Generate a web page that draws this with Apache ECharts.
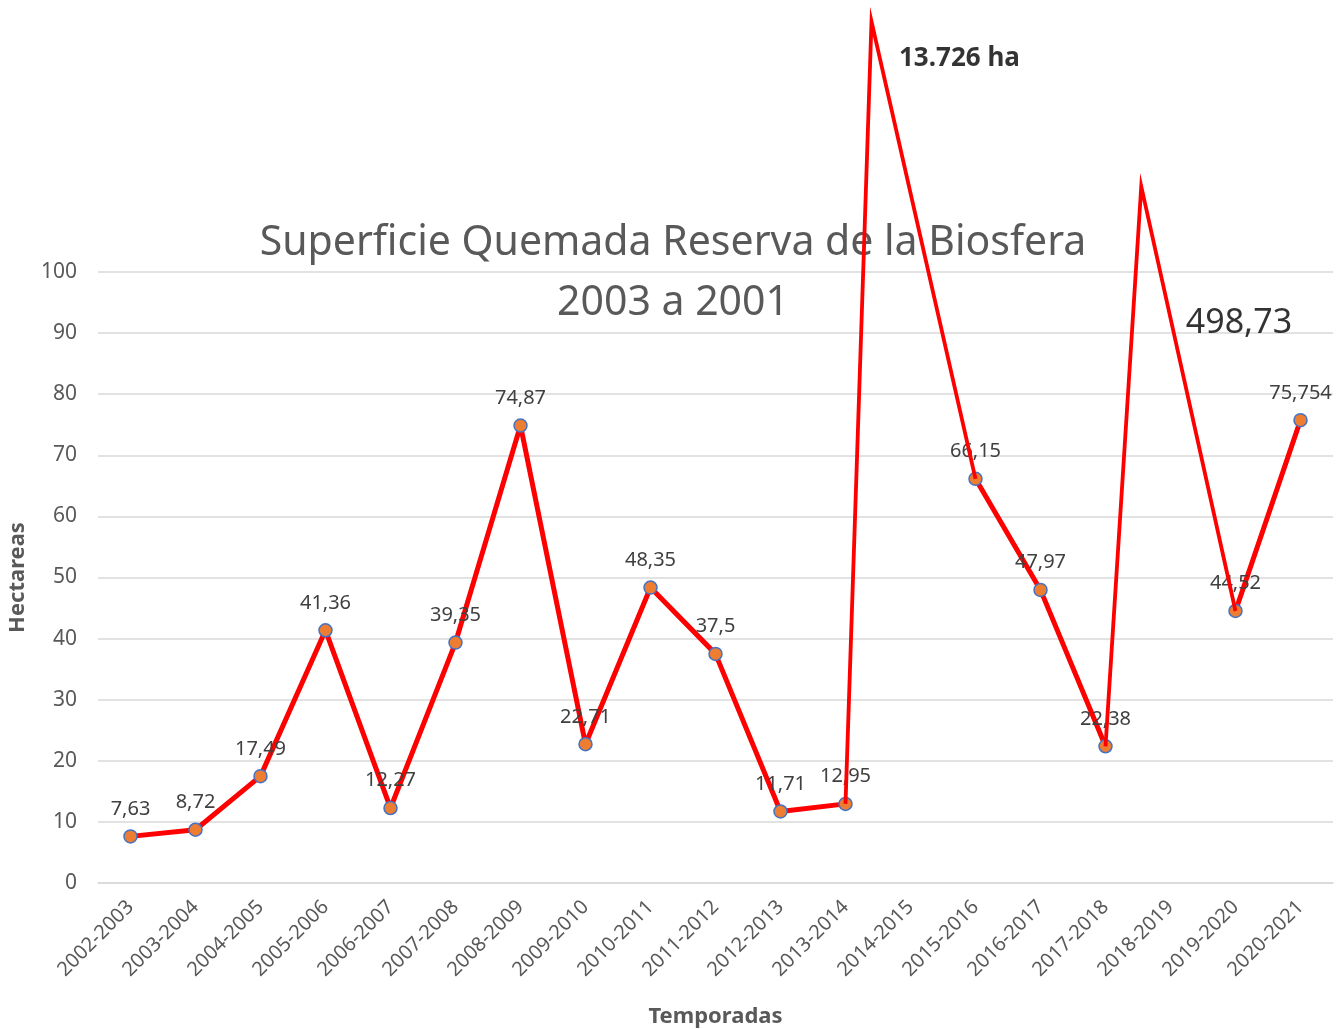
<!DOCTYPE html>
<html>
<head>
<meta charset="utf-8">
<script src="https://cdn.jsdelivr.net/npm/echarts@6/dist/echarts.min.js"></script>
<style>
  html, body { margin: 0; padding: 0; background: #fff; }
  #main { width: 1336px; height: 1029px; }
</style>
</head>
<body>
<div id="main"></div>
<script>
const temporadas = ['2002-2003', '2003-2004', '2004-2005', '2005-2006', '2006-2007', '2007-2008',
  '2008-2009', '2009-2010', '2010-2011', '2011-2012', '2012-2013', '2013-2014', '2014-2015',
  '2015-2016', '2016-2017', '2017-2018', '2018-2019', '2019-2020', '2020-2021'];
// hectareas por temporada (las dos fuera de escala van como picos aparte)
const hectareas = [7.63, 8.72, 17.49, 41.36, 12.27, 39.35, 74.87, 22.71, 48.35, 37.5, 11.71, 12.95,
  null, 66.15, 47.97, 22.38, null, 44.52, 75.754];
const yTicks = [0, 10, 20, 30, 40, 50, 60, 70, 80, 90, 100];

// picos dibujados a mano sobre el grafico
const picoIndice = [12, 16];
const picoPosicion = [11.4, 15.55];
const picoAltura = [141, 114];
const picoTexto = ['13.726 ha', '498,73'];

const gris = '#595959';
const fuente = '"Noto Sans", sans-serif';

// estilos de la etiqueta de cada pico
const picoEstilo = [
  { fontSize: 26, fontWeight: 'bold', distance: 27, offset: [0, 37] },
  { fontSize: 34, fontWeight: 'normal', distance: 44, offset: [0, 137] }
];

let chart = echarts.init(document.getElementById('main'));

// linea fina que sube al pico y vuelve
function serieDePico(k) {
  const i = picoIndice[k];
  return {
    type: 'line',
    xAxisIndex: 1,
    z: 3,
    clip: false,
    showSymbol: false,
    silent: true,
    lineStyle: { color: '#ff0000', width: 3.8, join: 'miter', miterLimit: 40 },
    data: [
      [i - 1, hectareas[i - 1]],
      [picoPosicion[k], picoAltura[k]],
      [i + 1, hectareas[i + 1]]
    ]
  };
}

// texto de cada pico
function textoDePico(k) {
  const est = picoEstilo[k];
  return {
    type: 'scatter',
    xAxisIndex: 1,
    z: 4,
    clip: false,
    silent: true,
    symbolSize: 1,
    itemStyle: { color: 'rgba(0,0,0,0)' },
    label: {
      show: true,
      position: 'right',
      distance: est.distance,
      offset: est.offset,
      formatter: picoTexto[k],
      color: '#000',
      fontFamily: fuente,
      fontSize: est.fontSize,
      fontWeight: est.fontWeight
    },
    data: [[picoPosicion[k], picoAltura[k]]]
  };
}

let option = {
  backgroundColor: '#fff',
  animation: false,
  title: {
    text: 'Superficie Quemada Reserva de la Biosfera\n2003 a 2001',
    left: 668,
    textAlign: 'center',
    top: 208,
    z: 1,
    textStyle: { color: gris, fontFamily: fuente, fontSize: 41, fontWeight: 'normal', lineHeight: 60 }
  },
  grid: { left: 98, right: 3, top: 272, bottom: 146, outerBoundsMode: 'none', containLabel: false },
  xAxis: [{
    type: 'category',
    data: temporadas,
    boundaryGap: true,
    name: 'Temporadas',
    nameLocation: 'middle',
    nameGap: 123,
    nameMoveOverlap: false,
    nameTextStyle: { color: gris, fontFamily: fuente, fontSize: 22, fontWeight: 'bold' },
    axisLine: { lineStyle: { color: '#d9d9d9', width: 1.5 } },
    axisTick: { show: false },
    axisLabel: { rotate: 45, interval: 0, margin: 21, color: gris, fontFamily: fuente, fontSize: 20 }
  }, {
    type: 'value',
    min: -0.5,
    max: temporadas.length - 0.5,
    show: false
  }],
  yAxis: {
    type: 'value',
    min: yTicks[0],
    max: yTicks[yTicks.length - 1],
    interval: yTicks[1] - yTicks[0],
    name: 'Hectareas',
    nameLocation: 'middle',
    nameGap: 69,
    nameMoveOverlap: false,
    nameTextStyle: { color: gris, fontFamily: fuente, fontSize: 22, fontWeight: 'bold' },
    axisLine: { show: false },
    axisTick: { show: false },
    axisLabel: { margin: 21, color: gris, fontFamily: fuente, fontSize: 21 },
    splitLine: { lineStyle: { color: '#d9d9d9', width: 1.5 } }
  },
  series: [{
    type: 'line',
    z: 2,
    data: hectareas,
    connectNulls: false,
    symbol: 'circle',
    symbolSize: 13,
    lineStyle: { color: '#ff0000', width: 5 },
    itemStyle: { color: '#ed7d31', borderColor: '#4472c4', borderWidth: 1.5 },
    label: {
      show: true,
      position: 'top',
      distance: 10,
      color: '#404040',
      fontFamily: fuente,
      fontSize: 20,
      formatter: p => String(p.value).replace('.', ',')
    }
  }, serieDePico(0), serieDePico(1), textoDePico(0), textoDePico(1)]
};

chart.setOption(option);
</script>
</body>
</html>
